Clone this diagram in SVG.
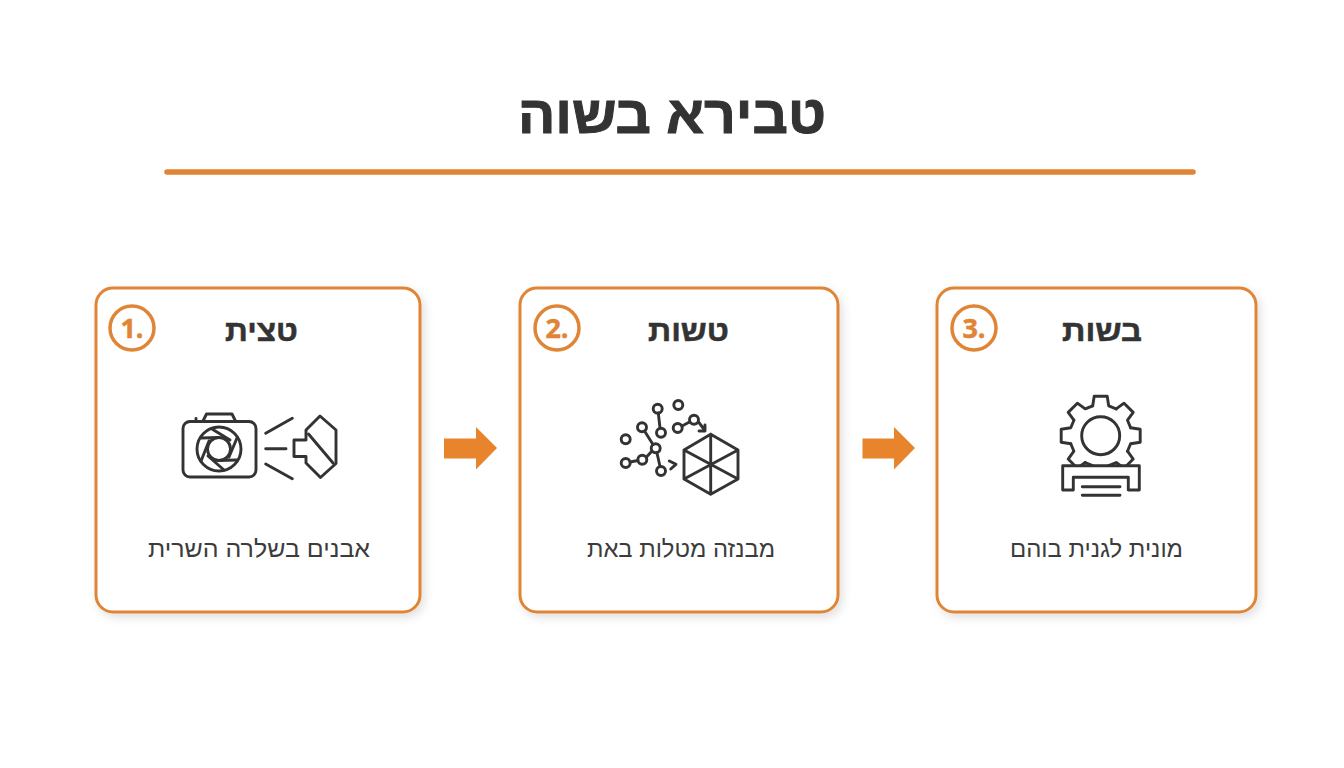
<svg xmlns="http://www.w3.org/2000/svg" width="1344" height="768" viewBox="0 0 1344 768">
<defs>
<filter id="sh" x="-10%" y="-10%" width="125%" height="125%"><feDropShadow dx="3" dy="4" stdDeviation="5" flood-color="#000" flood-opacity="0.12"/></filter>
<path id="seg" d="M-8-29.900L-6.500-39.500L6.500-39.500L8-29.900L15.500-26.800"/>
</defs>
<style>
text{font-family:"Liberation Sans","DejaVu Sans",sans-serif;fill:#333;text-anchor:middle}
.card{fill:#fff;stroke:#E08535;stroke-width:3;filter:url(#sh)}
.badge{fill:#fff;stroke:#E08535;stroke-width:3.500}
.num{font-family:"Open Sans","Liberation Sans",sans-serif;font-size:27px;font-weight:700;fill:#E08535;stroke:#E08535;stroke-width:.5}
.hd{font-size:29px;font-weight:700;stroke:#333;stroke-width:.5}
.sub{font-size:24px;fill:#3c3c3c}
.ic{fill:none;stroke:#333;stroke-width:2.900;stroke-linecap:round;stroke-linejoin:round}
.arr{fill:#E8842C}
</style>
<rect width="1344" height="768" fill="#fff"/>
<g id="title">
<text x="672" y="133" font-size="53" font-weight="700" stroke="#333" stroke-width="1" direction="rtl" textLength="308" lengthAdjust="spacingAndGlyphs">טבירא בשוה</text>
<line x1="167" y1="172" x2="1193" y2="172" stroke="#E08535" stroke-width="5.500" stroke-linecap="round"/>
</g>
<g id="node1">
<rect class="card" x="96" y="288" width="324" height="324" rx="17"/>
<circle class="badge" cx="132" cy="328" r="22"/>
<text class="num" x="132" y="338">1.</text>
<text class="hd" x="261.500" y="341" direction="rtl" textLength="73" lengthAdjust="spacingAndGlyphs">טצית</text>
<g class="ic">
<rect x="183" y="421.500" width="73" height="55.500" rx="7"/>
<path d="M203 421L206.500 414H232L235.500 421M196 421V418.500"/>
<circle cx="219" cy="449" r="22"/><circle cx="219" cy="449" r="11.500"/>
<path d="M212 429L230 440M237 438L229 457M237 460L218 460.500M224 470L208 456M201 461L209 441M201 438L219 437.500"/>
<path d="M265.700 433.300L292.300 418.300M265.700 448.700H286M265.700 464L292.300 478.700"/>
<path d="M320 416L336 430V463.500L320.500 477.500L306 463V456.500H294V440H306V430Z"/>
<path d="M308.500 434L333 463"/>
</g>
<text class="sub" x="259" y="557" direction="rtl" textLength="222" lengthAdjust="spacingAndGlyphs">אבנים בשלרה השרית</text>
</g>
<g id="node2">
<rect class="card" x="520" y="288" width="318" height="324" rx="17"/>
<circle class="badge" cx="557" cy="328" r="22"/>
<text class="num" x="557" y="338">2.</text>
<text class="hd" x="688.500" y="341" direction="rtl" textLength="81" lengthAdjust="spacingAndGlyphs">טשות</text>
<g class="ic">
<circle cx="657.700" cy="408.700" r="4.500"/><circle cx="661" cy="432.700" r="4.500"/><circle cx="678.300" cy="405" r="4.500"/><circle cx="677.700" cy="428" r="4.500"/><circle cx="694" cy="419.700" r="4.500"/><circle cx="642" cy="427.300" r="4.500"/><circle cx="655.700" cy="448.300" r="4.500"/><circle cx="625.700" cy="439.300" r="4.500"/><circle cx="642.300" cy="459.700" r="4.500"/><circle cx="625.700" cy="463" r="4.500"/><circle cx="661" cy="471" r="4.500"/>
<path d="M658.300 413L660 428M644.500 431L653 444.500M652 451L646.500 457M638 460.500L630 462M657 453L660 466.500M682 426L689.500 422M698.500 422L705 430.500M705 425V431H699M669.300 461L676 464.300L670.700 469"/>
<path d="M710.700 434.300L738 450V479L710.700 494.300L684 479V450ZM710.700 434.300V494.300M684 450L738 479M684 479L738 450"/>
</g>
<text class="sub" x="681" y="557" direction="rtl" textLength="188" lengthAdjust="spacingAndGlyphs">מבנזה מטלות באת</text>
</g>
<g id="node3">
<rect class="card" x="937" y="288" width="319" height="324" rx="17"/>
<circle class="badge" cx="974" cy="328" r="22"/>
<text class="num" x="974" y="338">3.</text>
<text class="hd" x="1102" y="341" direction="rtl" textLength="80" lengthAdjust="spacingAndGlyphs">בשות</text>
<g class="ic" transform="translate(1100.700 435.700)">
<use href="#seg"/><use href="#seg" transform="rotate(45)"/><use href="#seg" transform="rotate(90)"/><use href="#seg" transform="rotate(135)"/><use href="#seg" transform="rotate(180)"/><use href="#seg" transform="rotate(225)"/><use href="#seg" transform="rotate(270)"/><use href="#seg" transform="rotate(315)"/>
<circle r="19"/>
</g>
<path class="ic" style="fill:#fff" d="M1062.700 465.700H1139.300V490H1128.300V477.300H1073.300V490H1062.700Z"/>
<path class="ic" d="M1082.300 486.700H1120M1082.300 495.300H1120"/>
<text class="sub" x="1096.500" y="557" direction="rtl" textLength="173" lengthAdjust="spacingAndGlyphs">מונית לגנית בוהם</text>
</g>
<g id="connectors">
<path class="arr" d="M444 438.500H476V427L497 448L476 469.500V458.500H444Z"/>
<path class="arr" d="M862.500 438.500H894V427L915 448L894 469.500V458.500H862.500Z"/>
</g>
</svg>
